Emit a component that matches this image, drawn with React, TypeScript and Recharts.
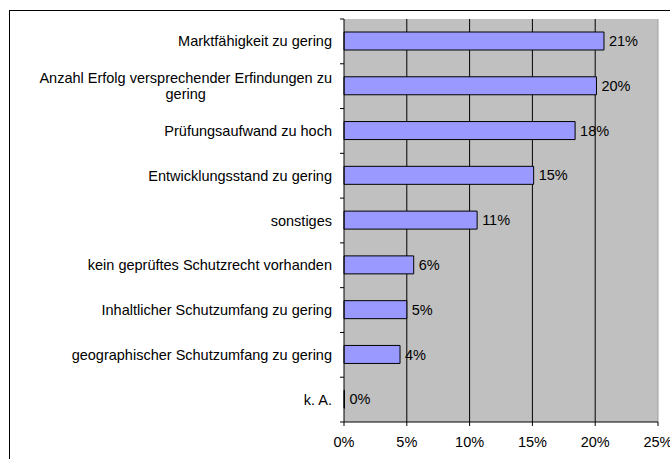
import React from 'react';
import { BarChart, Bar, XAxis, YAxis, CartesianGrid, LabelList, ReferenceLine } from 'recharts';

// Gründe, warum Schutzrechte nicht verwertet werden (Anteil in %)
const categories = [
  'Marktfähigkeit zu gering',
  'Anzahl Erfolg versprechender Erfindungen zu gering',
  'Prüfungsaufwand zu hoch',
  'Entwicklungsstand zu gering',
  'sonstiges',
  'kein geprüftes Schutzrecht vorhanden',
  'Inhaltlicher Schutzumfang zu gering',
  'geographischer Schutzumfang zu gering',
  'k. A.',
];
const shares = [20.7, 20.1, 18.4, 15.1, 10.6, 5.55, 5.0, 4.46, 0];
const xTicks = [0, 5, 10, 15, 20, 25];
const gridValues = [5, 10, 15, 20];

const data = categories.map((name, i) => ({ name, share: shares[i] }));

const W = 670;
const H = 459;
const margin = { top: 19, right: 12, bottom: 7, left: 0 };
const Y_AXIS_W = 344;
const X_AXIS_H = 30;
const TICK_GAP = 12;
const plotH = H - margin.top - margin.bottom - X_AXIS_H;
const band = plotH / categories.length;

const FONT_SIZE = 14.5;
const FONT_FAMILY = '"Liberation Sans", Arial, sans-serif';
const textStyle = { fontSize: FONT_SIZE, fontFamily: FONT_FAMILY, fill: '#000' };

let ctx: CanvasRenderingContext2D | null = null;
const measure = (s: string) => {
  if (!ctx) ctx = document.createElement('canvas').getContext('2d');
  if (!ctx) return s.length * FONT_SIZE * 0.5;
  ctx.font = `${FONT_SIZE}px "Liberation Sans"`;
  return ctx.measureText(s).width;
};

const wrap = (s: string, max: number) => {
  const words = s.split(' ');
  const lines: string[] = [];
  let cur = '';
  words.forEach((w) => {
    const next = cur ? cur + ' ' + w : w;
    if (cur && measure(next) > max) {
      lines.push(cur);
      cur = w;
    } else {
      cur = next;
    }
  });
  if (cur) lines.push(cur);
  return lines;
};

const CategoryTick = (props: any) => {
  const { x, y, payload, index } = props;
  const lines = wrap(String(payload.value), 300);
  const maxW = Math.max(...lines.map(measure));
  const multi = lines.length > 1;
  const lh = 16.5;
  const first = y - ((lines.length - 1) * lh) / 2;
  const axisX = x + TICK_GAP;
  return (
    <g>
      <text textAnchor={multi ? 'middle' : 'end'} style={textStyle as any} fill="#000">
        {lines.map((l, i) => (
          <tspan key={i} x={multi ? x - maxW / 2 : x} y={first + i * lh} dy="0.35em">
            {l}
          </tspan>
        ))}
      </text>
      <line x1={axisX - 4} x2={axisX} y1={y - band / 2} y2={y - band / 2} stroke="#000" />
      {index === categories.length - 1 && (
        <line x1={axisX - 4} x2={axisX} y1={y + band / 2} y2={y + band / 2} stroke="#000" />
      )}
    </g>
  );
};

export default function App() {
  return (
    <div style={{ position: 'fixed', left: 0, top: 0, width: W, height: H, overflow: 'hidden', background: '#fff' }}>
      <div style={{ position: 'absolute', left: 9, top: 10, width: 720, height: 520, border: '1px solid #000' }} />
      <div style={{ position: 'absolute', left: 0, top: 0 }}>
        <BarChart width={W} height={H} data={data} layout="vertical" margin={margin} barSize={18}>
          <CartesianGrid
            horizontal={false}
            verticalValues={gridValues}
            stroke="#000"
            strokeOpacity={1}
            fill="#C0C0C0"
            fillOpacity={1}
          />
          <ReferenceLine x={25} stroke="#A0A0A0" />
          <XAxis
            type="number"
            domain={[0, 25]}
            ticks={xTicks}
            interval={0}
            height={X_AXIS_H}
            tickSize={4}
            tickMargin={11}
            tickFormatter={(v) => `${v}%`}
            axisLine={{ stroke: '#000' }}
            tickLine={{ stroke: '#000' }}
            tick={textStyle}
          />
          <YAxis
            type="category"
            dataKey="name"
            width={Y_AXIS_W}
            interval={0}
            tickSize={0}
            tickMargin={TICK_GAP}
            tickLine={false}
            axisLine={{ stroke: '#000' }}
            tick={<CategoryTick />}
          />
          <Bar
            dataKey="share"
            fill="#9999FF"
            stroke="#000"
            strokeWidth={1}
            minPointSize={0.5}
            isAnimationActive={false}
          >
            <LabelList
              dataKey="share"
              position="right"
              offset={5}
              formatter={(v: any) => `${Math.round(Number(v))}%`}
              style={textStyle as any}
            />
          </Bar>
        </BarChart>
      </div>
    </div>
  );
}
